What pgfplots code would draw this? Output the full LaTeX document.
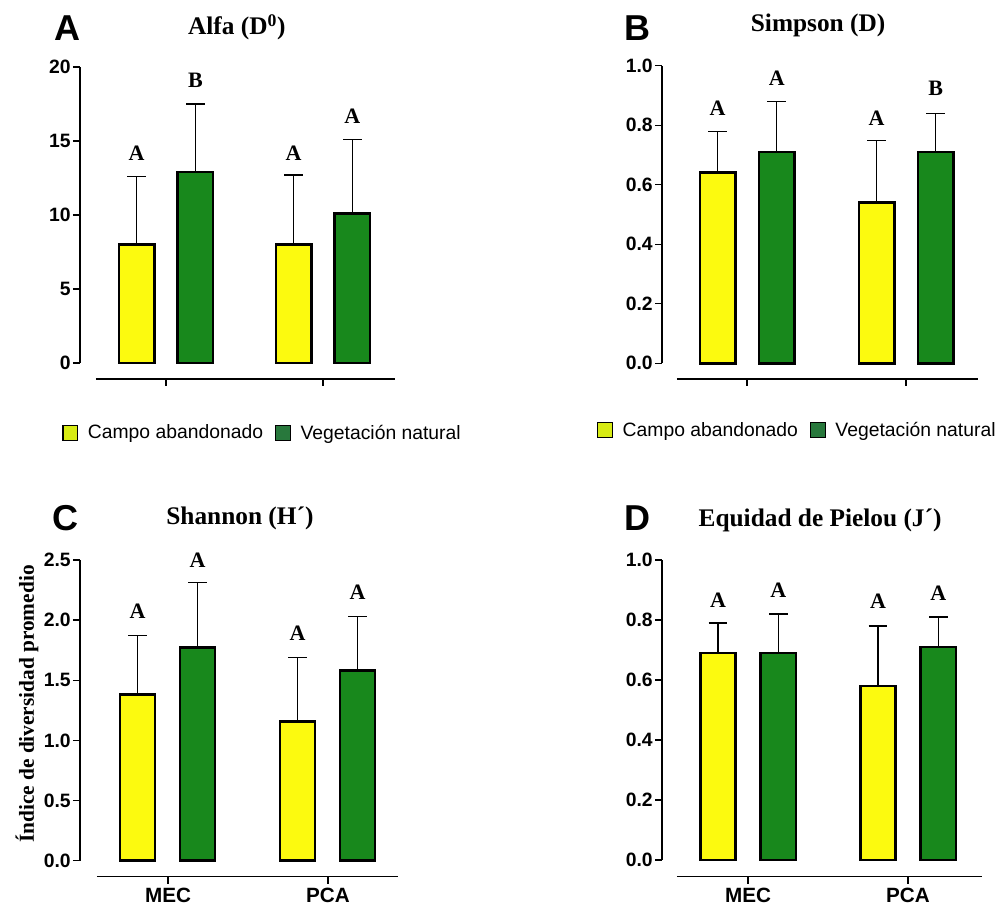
\documentclass[border=0pt]{standalone}
\usepackage{fontspec}
\setmainfont{Liberation Serif}
\setsansfont{Liberation Sans}
\usepackage{pgfplots}
\pgfplotsset{compat=1.18}
\definecolor{byellow}{RGB}{252,250,15}
\definecolor{bgreen}{RGB}{24,136,28}
\definecolor{lyellow}{RGB}{215,235,20}
\definecolor{lgreen}{RGB}{40,120,60}
\tikzset{
 plet/.style={font=\sffamily\bfseries\fontsize{27}{27}\selectfont},
 ptit/.style={font=\bfseries\fontsize{19}{19}\selectfont},
 slet/.style={font=\bfseries\fontsize{16.5}{16.5}\selectfont},
}
\pgfplotsset{
 panel/.style={
  scale only axis, clip=false, anchor=south west,
  axis x line*=bottom, axis y line*=left,
  axis line style={draw=none},
  xtick={1,2}, ybar, bar width=26.4pt,
  tick align=outside, major tick length=5.25pt,
  tick style={black, line width=1pt},
  /pgf/number format/assume math mode=true,
  yticklabel style={font=\sffamily\bfseries\fontsize{14.5}{14.5}\selectfont, inner sep=1.5pt},
  xticklabel style={font=\sffamily\bfseries\fontsize{15.5}{15.5}\selectfont},
  error bars/y dir=plus, error bars/y explicit,
  error bars/error mark options={black, line width=0.8pt, mark size=7pt, rotate=90},
  error bars/error bar style={black, line width=0.8pt},
 },
 ybars/.style={fill=byellow, draw=black, line width=2pt},
 gbars/.style={fill=bgreen, draw=black, line width=2pt},
 leg/.style={
  legend columns=2, legend cell align=left,
  legend style={draw=none, fill=none, inner sep=0pt,
   font=\sffamily\fontsize{14.5}{14.5}\selectfont,
   /tikz/every even column/.append style={column sep=7pt}},
 },
}
\newcommand\legimgs{%
 \addlegendimage{legend image code/.code={\draw[fill=lyellow,draw=black,line width=0.9pt] (0pt,-5.5pt) rectangle (11pt,5.5pt); \path (16.5pt,0pt);}}
 \addlegendentry{Campo abandonado}
 \addlegendimage{legend image code/.code={\draw[fill=lgreen,draw=black,line width=0.9pt] (0pt,-5.5pt) rectangle (11pt,5.5pt); \path (16.5pt,0pt);}}
 \addlegendentry{Vegetación natural}}
\begin{document}
\begin{tikzpicture}
\path[use as bounding box] (0,0) rectangle (753pt,684pt);
% ---------- A ----------
\begin{axis}[panel, at={(60pt,399.75pt)}, width=236.25pt, height=234pt,
  xmin=0.4522, xmax=2.4586, ymin=-1.081, ymax=20,
  ytick={0,5,10,15,20}, xticklabels={,},
  leg, legend style={at={(-0.057,-0.173)}, anchor=west}]
 \legimgs
 \addplot[ybars, bar shift=-22pt] coordinates {(1,8.0) +- (0,4.6) (2,8.0) +- (0,4.7)};
 \addplot[gbars, bar shift=22pt] coordinates {(1,12.9) +- (0,4.6) (2,10.1) +- (0,5.0)};
 \draw[line width=1pt] (axis cs:0.4522,0) -- (axis cs:0.4522,20);
 \draw[line width=1pt] (axis cs:0.554,-1.081) -- (axis cs:2.4586,-1.081);
 \node[slet] at ([xshift=-22pt]axis cs:1,14.19) {A};
 \node[slet] at ([xshift=22pt]axis cs:1,19.12) {B};
 \node[slet] at ([xshift=-22pt]axis cs:2,14.19) {A};
 \node[slet] at ([xshift=22pt]axis cs:2,16.69) {A};
 \node[plet] at (axis description cs:-0.041,1.125) {A};
 \node[ptit] at (axis description cs:0.498,1.128) {Alfa (D\textsuperscript{0})};
\end{axis}
% ---------- B ----------
\begin{axis}[panel, at={(496.5pt,399.75pt)}, width=237pt, height=234.98pt,
  xmin=0.4654, xmax=2.4528, ymin=-0.0528, ymax=1,
  ytick={0,0.2,...,1.0}, xticklabels={,},
  yticklabel style={/pgf/number format/.cd, fixed, fixed zerofill, precision=1},
  leg, legend style={at={(-0.206,-0.163)}, anchor=west}]
 \legimgs
 \addplot[ybars, bar shift=-22pt] coordinates {(1,0.64) +- (0,0.14) (2,0.54) +- (0,0.21)};
 \addplot[gbars, bar shift=22.3pt] coordinates {(1,0.71) +- (0,0.17) (2,0.71) +- (0,0.13)};
 \draw[line width=1pt] (axis cs:0.4654,0) -- (axis cs:0.4654,1);
 \draw[line width=1pt] (axis cs:0.5597,-0.0528) -- (axis cs:2.4528,-0.0528);
 \node[slet] at ([xshift=-22pt]axis cs:1,0.858) {A};
 \node[slet] at ([xshift=22.3pt]axis cs:1,0.959) {A};
 \node[slet] at ([xshift=-22pt]axis cs:2,0.824) {A};
 \node[slet] at ([xshift=22.3pt]axis cs:2,0.925) {B};
 \node[plet] at (axis description cs:-0.079,1.12) {B};
 \node[ptit] at (axis description cs:0.494,1.13) {Simpson (D)};
\end{axis}
% ---------- C ----------
\begin{axis}[panel, at={(60pt,26.475pt)}, width=238.5pt, height=237.5pt,
  xmin=0.45, xmax=2.4375, ymin=-0.133, ymax=2.5,
  ytick={0,0.5,...,2.5}, xticklabels={MEC,PCA},
  yticklabel style={/pgf/number format/.cd, fixed, fixed zerofill, precision=1},
  ylabel={Índice de diversidad promedio},
  ylabel style={font=\bfseries\fontsize{16}{16}\selectfont, at={(axis description cs:-0.167,0.545)}, anchor=center}]
 \addplot[ybars, bar shift=-22.9pt] coordinates {(1,1.38) +- (0,0.49) (2,1.16) +- (0,0.53)};
 \addplot[gbars, bar shift=22.1pt] coordinates {(1,1.77) +- (0,0.54) (2,1.58) +- (0,0.45)};
 \draw[line width=1pt] (axis cs:0.45,0) -- (axis cs:0.45,2.5);
 \draw[line width=1pt] (axis cs:0.556,-0.133) -- (axis cs:2.4375,-0.133);
 \node[slet] at ([xshift=-22.9pt]axis cs:1,2.07) {A};
 \node[slet] at ([xshift=22.1pt]axis cs:1,2.50) {A};
 \node[slet] at ([xshift=-22.9pt]axis cs:2,1.893) {A};
 \node[slet] at ([xshift=22.1pt]axis cs:2,2.236) {A};
 \node[plet] at (axis description cs:-0.047,1.133) {C};
 \node[ptit] at (axis description cs:0.503,1.133) {Shannon (H´)};
\end{axis}
% ---------- D ----------
\begin{axis}[panel, at={(496.5pt,26.475pt)}, width=240pt, height=237.5pt,
  xmin=0.4625, xmax=2.4625, ymin=-0.0557, ymax=1,
  ytick={0,0.2,...,1.0}, xticklabels={MEC,PCA},
  yticklabel style={/pgf/number format/.cd, fixed, fixed zerofill, precision=1}]
 \addplot[ybars, bar shift=-22.5pt] coordinates {(1,0.69) +- (0,0.10) (2,0.58) +- (0,0.20)};
 \addplot[gbars, bar shift=22.8pt] coordinates {(1,0.69) +- (0,0.13) (2,0.71) +- (0,0.10)};
 \draw[line width=1pt] (axis cs:0.4625,0) -- (axis cs:0.4625,1);
 \draw[line width=1pt] (axis cs:0.556,-0.0557) -- (axis cs:2.4625,-0.0557);
 \node[slet] at ([xshift=-22.5pt]axis cs:1,0.867) {A};
 \node[slet] at ([xshift=22.8pt]axis cs:1,0.898) {A};
 \node[slet] at ([xshift=-22.5pt]axis cs:2,0.861) {A};
 \node[slet] at ([xshift=22.8pt]axis cs:2,0.889) {A};
 \node[plet] at (axis description cs:-0.078,1.133) {D};
 \node[ptit] at (axis description cs:0.494,1.126) {Equidad de Pielou (J´)};
\end{axis}
\end{tikzpicture}
\end{document}
